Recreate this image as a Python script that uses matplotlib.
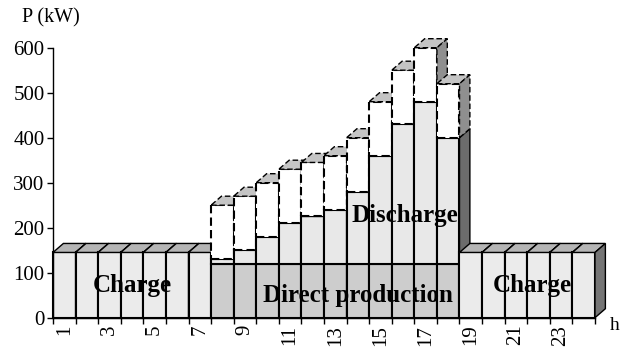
import matplotlib
matplotlib.use("Agg")
import matplotlib.pyplot as plt
from matplotlib.patches import Polygon

plt.rcParams["font.family"] = ["Liberation Serif", "DejaVu Serif"]

# hourly power balance (kW)
hours = list(range(1, 25))
charge = [145, 145, 145, 145, 145, 145, 145] + [0] * 11 + [145, 145, 145, 145, 145, 145]
direct = [0] * 7 + [120, 120, 120, 120, 120, 120, 120, 120, 120, 120, 120] + [0] * 6
discharge = [0] * 7 + [10, 30, 60, 90, 105, 120, 160, 240, 310, 360, 280] + [0] * 6
upper = [0] * 7 + [120, 120, 120, 120, 120, 120, 120, 120, 120, 120, 120] + [0] * 6

y_ticks = [0, 100, 200, 300, 400, 500, 600]
x_labels = [1, 3, 5, 7, 9, 11, 13, 15, 17, 19, 21, 23]

# depth of the pseudo-3D boxes, in data units
DX = 0.46
DY = 20

STYLES = [
    # series, front, top, side, linestyle
    (direct, "#cdcdcd", "#b0b0b0", "#6f6f6f", "-"),
    (charge, "#ebebeb", "#b5b5b5", "#757575", "-"),
    (discharge, "#e8e8e8", "#b3b3b3", "#6c6c6c", "-"),
    (upper, "#ffffff", "#c4c4c4", "#8f8f8f", (0, (4, 2))),
]


def draw_box(ax, x0, y0, y1, front, top, side, ls, z):
    x1 = x0 + 1
    common = dict(edgecolor="black", linestyle=ls, clip_on=False, zorder=z,
                  joinstyle="miter")
    ax.add_patch(Polygon([(x0, y0), (x1, y0), (x1, y1), (x0, y1)],
                         facecolor=front, linewidth=1.5, **common))
    ax.add_patch(Polygon([(x0, y1), (x1, y1), (x1 + DX, y1 + DY), (x0 + DX, y1 + DY)],
                         facecolor=top, linewidth=1.0, **common))
    ax.add_patch(Polygon([(x1, y0), (x1 + DX, y0 + DY), (x1 + DX, y1 + DY), (x1, y1)],
                         facecolor=side, linewidth=1.0, **common))


fig = plt.figure(figsize=(6.21, 3.5), dpi=100)
ax = fig.add_axes([53 / 621, 1 - 317.7 / 350, 542 / 621, 270 / 350])

z = 3
for i, h in enumerate(hours):
    base = 0
    for series, front, top, side, ls in STYLES:
        v = series[i]
        if v <= 0:
            continue
        draw_box(ax, h - 0.5, base, base + v, front, top, side, ls, z)
        base += v
        z += 1

ax.set_xlim(0.5, 24.5)
ax.set_ylim(0, 600)
for s in ("top", "right"):
    ax.spines[s].set_visible(False)
for s in ("left", "bottom"):
    ax.spines[s].set_linewidth(1.0)
    ax.spines[s].set_zorder(200)

ax.set_yticks(y_ticks)
ax.tick_params(axis="y", labelsize=15, length=4, width=1, pad=2)

ax.set_xticks([h - 0.5 for h in hours] + [24.5])
ax.set_xticklabels([])
ax.tick_params(axis="x", which="major", length=4, width=1, direction="out")
ax.set_xticks(x_labels, minor=True)
ax.set_xticklabels([str(h) for h in x_labels], minor=True, rotation=90)
ax.tick_params(axis="x", which="minor", length=0, pad=5, labelsize=15)

label_kw = dict(fontsize=18, fontweight="bold", ha="center", va="baseline", zorder=300)
ax.text(4.02, 58, "Charge", **label_kw)
ax.text(21.74, 58, "Charge", **label_kw)
ax.text(14.0, 35, "Direct production", **label_kw)
ax.text(16.09, 213, "Discharge", **label_kw)

fig.text(51 / 621, 1 - 18 / 350, "P (kW)", fontsize=14.5, ha="center", va="center")
fig.text(610 / 621, 1 - 326 / 350, "h", fontsize=14, ha="left", va="center")

fig.savefig("out.png", dpi=100)
